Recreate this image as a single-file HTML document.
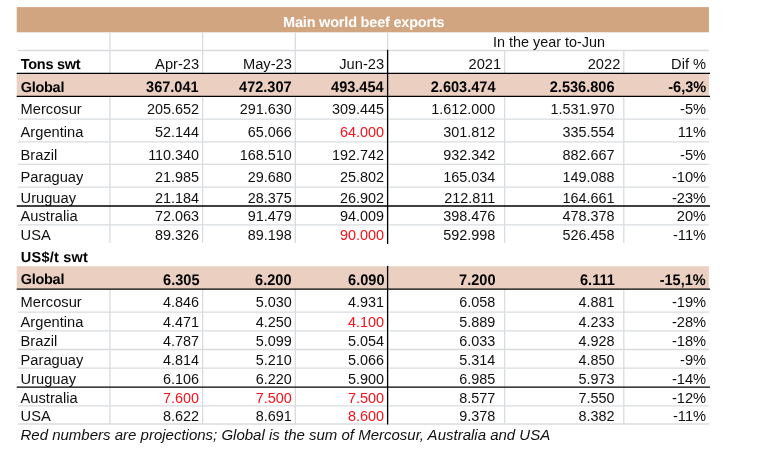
<!DOCTYPE html>
<html><head><meta charset="utf-8"><title>Main world beef exports</title>
<style>
html,body{margin:0;padding:0;background:#fff;}
body{width:757px;height:452px;position:relative;overflow:hidden;font-family:"Liberation Sans",sans-serif;color:#101010;}
.a{position:absolute;}
svg{position:absolute;left:0;top:0;}
.t{position:absolute;white-space:nowrap;font-size:14.67px;line-height:17px;height:17px;}
.r{text-align:right;}
.b{font-weight:bold;font-size:15.4px;color:#000;text-rendering:geometricPrecision;transform:scaleX(.945);transform-origin:100% 50%;}
.lb{font-weight:bold;font-size:14.5px;letter-spacing:-0.3px;color:#000;text-rendering:geometricPrecision;}
.n{font-size:14.4px;}
.red{color:#fa1018;}
</style></head><body>

<svg width="757" height="452" viewBox="0 0 757 452">
<rect x="16.7" y="7.1" width="692.2" height="25.2" fill="#d2a581"/>
<g stroke="#d9dcdf" stroke-width="1.3" fill="none">
<line x1="109.9" y1="32.3" x2="109.9" y2="243.0"/>
<line x1="109.9" y1="289.0" x2="109.9" y2="424.5"/>
<line x1="202.6" y1="32.3" x2="202.6" y2="243.0"/>
<line x1="202.6" y1="289.0" x2="202.6" y2="424.5"/>
<line x1="295.3" y1="32.3" x2="295.3" y2="243.0"/>
<line x1="295.3" y1="289.0" x2="295.3" y2="424.5"/>
<line x1="387.6" y1="32.3" x2="387.6" y2="243.0"/>
<line x1="387.6" y1="289.0" x2="387.6" y2="424.5"/>
<line x1="504.6" y1="50.5" x2="504.6" y2="243.0"/>
<line x1="504.6" y1="289.0" x2="504.6" y2="424.5"/>
<line x1="623.8" y1="50.5" x2="623.8" y2="243.0"/>
<line x1="623.8" y1="289.0" x2="623.8" y2="424.5"/>
<line x1="18" y1="50.5" x2="708.9" y2="50.5"/>
<line x1="18" y1="119.1" x2="708.9" y2="119.1"/>
<line x1="18" y1="141.8" x2="708.9" y2="141.8"/>
<line x1="18" y1="164.3" x2="708.9" y2="164.3"/>
<line x1="18" y1="187.1" x2="708.9" y2="187.1"/>
<line x1="18" y1="224.8" x2="708.9" y2="224.8"/>
<line x1="18" y1="312.1" x2="708.9" y2="312.1"/>
<line x1="18" y1="330.8" x2="708.9" y2="330.8"/>
<line x1="18" y1="349.5" x2="708.9" y2="349.5"/>
<line x1="18" y1="368.2" x2="708.9" y2="368.2"/>
<line x1="18" y1="405.8" x2="708.9" y2="405.8"/>
<line x1="18" y1="424.0" x2="708.9" y2="424.0"/>
</g>
<rect x="16.7" y="73.3" width="692.2" height="23.0" fill="#ebd0c2"/>
<rect x="16.7" y="266.2" width="692.2" height="23.0" fill="#ebd0c2"/>
<g stroke="#000" stroke-width="1.3" fill="none">
<line x1="16.7" y1="73.3" x2="710" y2="73.3"/>
<line x1="16.7" y1="96.3" x2="710" y2="96.3"/>
<line x1="16.7" y1="206.0" x2="710" y2="206.0"/>
<line x1="16.7" y1="289.2" x2="710" y2="289.2"/>
<line x1="16.7" y1="387.1" x2="710" y2="387.1"/>
<line x1="387.6" y1="49.8" x2="387.6" y2="244"/>
<line x1="387.6" y1="266" x2="387.6" y2="424.5"/>
</g></svg>
<div class="t lb" style="left:17px;top:15.00px;width:692px;text-align:center;color:#fff;letter-spacing:-0.2px;padding-left:1.5px;box-sizing:border-box">Main world beef exports</div>
<div class="t" style="left:388px;top:33.80px;width:322px;text-align:center;font-size:14.4px">In the year to-Jun</div>
<div class="t lb" style="left:20.8px;top:56.80px">Tons swt</div>
<div class="t r" style="right:557.9px;top:55.80px">Apr-23</div>
<div class="t r" style="right:465.2px;top:55.80px">May-23</div>
<div class="t r" style="right:372.9px;top:55.80px">Jun-23</div>
<div class="t r" style="right:255.9px;top:55.80px">2021</div>
<div class="t r" style="right:136.7px;top:55.80px">2022</div>
<div class="t r" style="right:50.9px;top:55.80px">Dif %</div>
<div class="t lb" style="left:20.8px;top:79.80px">Global</div>
<div class="t r b" style="right:557.9px;top:79.10px">367.041</div>
<div class="t r b" style="right:465.2px;top:79.10px">472.307</div>
<div class="t r b" style="right:372.9px;top:79.10px">493.454</div>
<div class="t r b" style="right:261.7px;top:79.10px">2.603.474</div>
<div class="t r b" style="right:142.5px;top:79.10px">2.536.806</div>
<div class="t r b" style="right:50.9px;top:79.10px">-6,3%</div>
<div class="t" style="left:20.6px;top:100.80px">Mercosur</div>
<div class="t r n" style="right:557.9px;top:100.80px">205.652</div>
<div class="t r n" style="right:465.2px;top:100.80px">291.630</div>
<div class="t r n" style="right:372.9px;top:100.80px">309.445</div>
<div class="t r n" style="right:261.7px;top:100.80px">1.612.000</div>
<div class="t r n" style="right:142.5px;top:100.80px">1.531.970</div>
<div class="t r" style="right:50.9px;top:100.80px">-5%</div>
<div class="t" style="left:20.6px;top:123.80px">Argentina</div>
<div class="t r n" style="right:557.9px;top:123.80px">52.144</div>
<div class="t r n" style="right:465.2px;top:123.80px">65.066</div>
<div class="t r n red" style="right:372.9px;top:123.80px">64.000</div>
<div class="t r n" style="right:261.7px;top:123.80px">301.812</div>
<div class="t r n" style="right:142.5px;top:123.80px">335.554</div>
<div class="t r" style="right:50.9px;top:123.80px">11%</div>
<div class="t" style="left:20.6px;top:146.80px">Brazil</div>
<div class="t r n" style="right:557.9px;top:146.80px">110.340</div>
<div class="t r n" style="right:465.2px;top:146.80px">168.510</div>
<div class="t r n" style="right:372.9px;top:146.80px">192.742</div>
<div class="t r n" style="right:261.7px;top:146.80px">932.342</div>
<div class="t r n" style="right:142.5px;top:146.80px">882.667</div>
<div class="t r" style="right:50.9px;top:146.80px">-5%</div>
<div class="t" style="left:20.6px;top:168.80px">Paraguay</div>
<div class="t r n" style="right:557.9px;top:168.80px">21.985</div>
<div class="t r n" style="right:465.2px;top:168.80px">29.680</div>
<div class="t r n" style="right:372.9px;top:168.80px">25.802</div>
<div class="t r n" style="right:261.7px;top:168.80px">165.034</div>
<div class="t r n" style="right:142.5px;top:168.80px">149.088</div>
<div class="t r" style="right:50.9px;top:168.80px">-10%</div>
<div class="t" style="left:20.6px;top:189.80px">Uruguay</div>
<div class="t r n" style="right:557.9px;top:189.80px">21.184</div>
<div class="t r n" style="right:465.2px;top:189.80px">28.375</div>
<div class="t r n" style="right:372.9px;top:189.80px">26.902</div>
<div class="t r n" style="right:261.7px;top:189.80px">212.811</div>
<div class="t r n" style="right:142.5px;top:189.80px">164.661</div>
<div class="t r" style="right:50.9px;top:189.80px">-23%</div>
<div class="t" style="left:20.6px;top:207.80px">Australia</div>
<div class="t r n" style="right:557.9px;top:207.80px">72.063</div>
<div class="t r n" style="right:465.2px;top:207.80px">91.479</div>
<div class="t r n" style="right:372.9px;top:207.80px">94.009</div>
<div class="t r n" style="right:261.7px;top:207.80px">398.476</div>
<div class="t r n" style="right:142.5px;top:207.80px">478.378</div>
<div class="t r" style="right:50.9px;top:207.80px">20%</div>
<div class="t" style="left:20.6px;top:226.80px">USA</div>
<div class="t r n" style="right:557.9px;top:226.80px">89.326</div>
<div class="t r n" style="right:465.2px;top:226.80px">89.198</div>
<div class="t r n red" style="right:372.9px;top:226.80px">90.000</div>
<div class="t r n" style="right:261.7px;top:226.80px">592.998</div>
<div class="t r n" style="right:142.5px;top:226.80px">526.458</div>
<div class="t r" style="right:50.9px;top:226.80px">-11%</div>
<div class="t lb" style="left:20.8px;top:249.80px;letter-spacing:0.22px">US$/t swt</div>
<div class="t lb" style="left:20.8px;top:271.80px">Global</div>
<div class="t r b" style="right:557.9px;top:271.80px">6.305</div>
<div class="t r b" style="right:465.2px;top:271.80px">6.200</div>
<div class="t r b" style="right:372.9px;top:271.80px">6.090</div>
<div class="t r b" style="right:261.7px;top:271.80px">7.200</div>
<div class="t r b" style="right:142.5px;top:271.80px">6.111</div>
<div class="t r b" style="right:50.9px;top:271.80px">-15,1%</div>
<div class="t" style="left:20.6px;top:293.80px">Mercosur</div>
<div class="t r n" style="right:557.9px;top:293.80px">4.846</div>
<div class="t r n" style="right:465.2px;top:293.80px">5.030</div>
<div class="t r n" style="right:372.9px;top:293.80px">4.931</div>
<div class="t r n" style="right:261.7px;top:293.80px">6.058</div>
<div class="t r n" style="right:142.5px;top:293.80px">4.881</div>
<div class="t r" style="right:50.9px;top:293.80px">-19%</div>
<div class="t" style="left:20.6px;top:313.80px">Argentina</div>
<div class="t r n" style="right:557.9px;top:313.80px">4.471</div>
<div class="t r n" style="right:465.2px;top:313.80px">4.250</div>
<div class="t r n red" style="right:372.9px;top:313.80px">4.100</div>
<div class="t r n" style="right:261.7px;top:313.80px">5.889</div>
<div class="t r n" style="right:142.5px;top:313.80px">4.233</div>
<div class="t r" style="right:50.9px;top:313.80px">-28%</div>
<div class="t" style="left:20.6px;top:332.80px">Brazil</div>
<div class="t r n" style="right:557.9px;top:332.80px">4.787</div>
<div class="t r n" style="right:465.2px;top:332.80px">5.099</div>
<div class="t r n" style="right:372.9px;top:332.80px">5.054</div>
<div class="t r n" style="right:261.7px;top:332.80px">6.033</div>
<div class="t r n" style="right:142.5px;top:332.80px">4.928</div>
<div class="t r" style="right:50.9px;top:332.80px">-18%</div>
<div class="t" style="left:20.6px;top:351.80px">Paraguay</div>
<div class="t r n" style="right:557.9px;top:351.80px">4.814</div>
<div class="t r n" style="right:465.2px;top:351.80px">5.210</div>
<div class="t r n" style="right:372.9px;top:351.80px">5.066</div>
<div class="t r n" style="right:261.7px;top:351.80px">5.314</div>
<div class="t r n" style="right:142.5px;top:351.80px">4.850</div>
<div class="t r" style="right:50.9px;top:351.80px">-9%</div>
<div class="t" style="left:20.6px;top:370.80px">Uruguay</div>
<div class="t r n" style="right:557.9px;top:370.80px">6.106</div>
<div class="t r n" style="right:465.2px;top:370.80px">6.220</div>
<div class="t r n" style="right:372.9px;top:370.80px">5.900</div>
<div class="t r n" style="right:261.7px;top:370.80px">6.985</div>
<div class="t r n" style="right:142.5px;top:370.80px">5.973</div>
<div class="t r" style="right:50.9px;top:370.80px">-14%</div>
<div class="t" style="left:20.6px;top:389.80px">Australia</div>
<div class="t r n red" style="right:557.9px;top:389.80px">7.600</div>
<div class="t r n red" style="right:465.2px;top:389.80px">7.500</div>
<div class="t r n red" style="right:372.9px;top:389.80px">7.500</div>
<div class="t r n" style="right:261.7px;top:389.80px">8.577</div>
<div class="t r n" style="right:142.5px;top:389.80px">7.550</div>
<div class="t r" style="right:50.9px;top:389.80px">-12%</div>
<div class="t" style="left:20.6px;top:407.80px">USA</div>
<div class="t r n" style="right:557.9px;top:407.80px">8.622</div>
<div class="t r n" style="right:465.2px;top:407.80px">8.691</div>
<div class="t r n red" style="right:372.9px;top:407.80px">8.600</div>
<div class="t r n" style="right:261.7px;top:407.80px">9.378</div>
<div class="t r n" style="right:142.5px;top:407.80px">8.382</div>
<div class="t r" style="right:50.9px;top:407.80px">-11%</div>
<div class="t" style="left:20.5px;top:425.80px;font-style:italic;font-size:15px">Red numbers are projections; Global is the sum of Mercosur, Australia and USA</div>
</body></html>
